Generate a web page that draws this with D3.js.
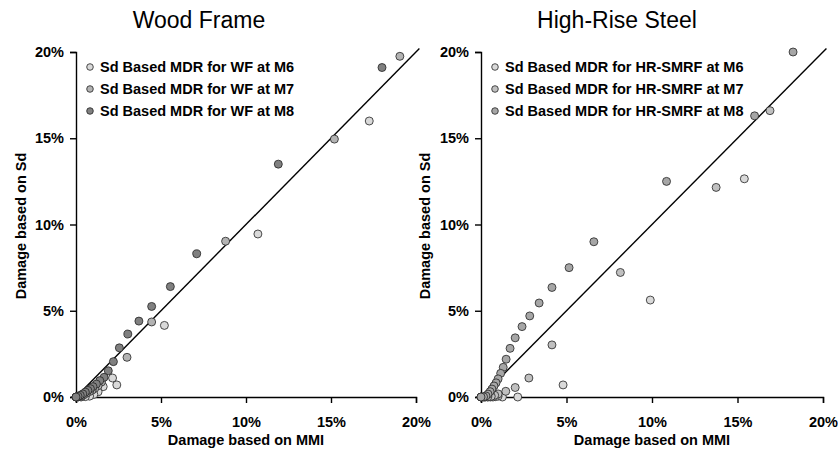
<!DOCTYPE html>
<html>
<head>
<meta charset="utf-8">
<script src="https://cdn.jsdelivr.net/npm/d3@7"></script>
<style>
  body { margin: 0; background: #fff; }
  text { font-family: "Liberation Sans", Arial, sans-serif; }
</style>
</head>
<body>
<div id="chart"></div>
<script>
// Tick values (percent)
const ticks = [0, 5, 10, 15, 20];

// Wood Frame: [damage based on MMI %, damage based on Sd %]
const wfM6 = [[17.25, 16.0], [10.7, 9.45], [5.2, 4.15], [2.15, 1.1], [2.4, 0.7], [1.6, 0.6],
  [1.3, 0.3], [1.05, 0.15], [0.8, 0.05], [0.55, 0.02], [0.3, 0], [0.1, 0], [0, 0]];
const wfM7 = [[19.05, 19.75], [15.2, 14.95], [8.8, 9.03], [4.45, 4.35], [3.0, 2.3], [1.5, 0.87],
  [1.3, 0.65], [1.1, 0.5], [0.95, 0.4], [0.8, 0.32], [0.62, 0.22], [0.45, 0.12], [0.3, 0.05],
  [0.15, 0.01], [0, 0]];
const wfM8 = [[18.0, 19.1], [11.9, 13.5], [7.1, 8.3], [5.55, 6.4], [4.45, 5.25], [3.7, 4.4],
  [3.05, 3.65], [2.55, 2.85], [2.2, 2.05], [1.9, 1.52], [1.65, 1.14], [1.4, 0.95], [1.2, 0.75],
  [1.0, 0.6], [0.85, 0.48], [0.7, 0.38], [0.55, 0.28], [0.4, 0.18], [0.25, 0.1], [0.12, 0.04], [0, 0]];

// High-Rise Steel
const hrM6 = [[15.4, 12.65], [9.9, 5.62], [4.8, 0.7], [2.15, 0], [1.25, 0], [1.0, 0.05],
  [0.85, 0.02], [0.7, 0], [0.55, 0], [0.4, 0], [0.25, 0], [0.1, 0], [0, 0]];
const hrM7 = [[16.9, 16.6], [13.75, 12.15], [8.15, 7.22], [4.15, 3.02], [2.8, 1.1], [2.0, 0.55],
  [1.45, 0.33], [1.0, 0.18], [0.8, 0.1], [0.6, 0.04], [0.4, 0.01], [0.2, 0], [0, 0]];
const hrM8 = [[18.25, 20.0], [16.0, 16.3], [10.85, 12.5], [6.6, 9.0], [5.15, 7.5], [4.15, 6.35],
  [3.4, 5.45], [2.85, 4.7], [2.4, 4.08], [2.0, 3.43], [1.7, 2.82], [1.47, 2.19], [1.3, 1.72],
  [1.15, 1.37], [1.0, 1.05], [0.88, 0.82], [0.76, 0.64], [0.64, 0.46], [0.53, 0.31], [0.41, 0.17],
  [0.29, 0.06], [0.15, 0.01], [0, 0]];

// 1:1 fit line ends
const fitLine = [[0, 0], [20.2, 20.2]];

const wfLabels = ['Sd Based MDR for WF at M6', 'Sd Based MDR for WF at M7', 'Sd Based MDR for WF at M8'];
const hrLabels = ['Sd Based MDR for HR-SMRF at M6', 'Sd Based MDR for HR-SMRF at M7', 'Sd Based MDR for HR-SMRF at M8'];

const svg = d3.select('#chart').append('svg')
  .attr('width', 838)
  .attr('height', 451);

function panel(opts) {
  let x = d3.scaleLinear().domain([0, 20]).range([opts.x0, opts.x1]);
  let y = d3.scaleLinear().domain([0, 20]).range([397, 52]);
  let g = svg.append('g');

  // Title
  g.append('text')
    .attr('x', opts.titleX).attr('y', 28)
    .attr('text-anchor', 'middle')
    .style('font-size', '23px')
    .text(opts.title);

  // Axes
  let fmt = d => d + '%';
  let xAxis = g.append('g').attr('transform', 'translate(0,397)')
    .call(d3.axisBottom(x).tickValues(ticks).tickFormat(fmt).tickSize(6).tickPadding(14));
  let yAxis = g.append('g').attr('transform', 'translate(' + opts.x0 + ',0)')
    .call(d3.axisLeft(y).tickValues(ticks).tickFormat(fmt).tickSize(6).tickPadding(6));
  [xAxis, yAxis].forEach(a => {
    a.select('.domain').attr('stroke', '#000').attr('stroke-width', 1.4);
    a.selectAll('.tick line').attr('stroke', '#000').attr('stroke-width', 1.4);
    a.selectAll('text').attr('fill', '#000')
      .style('font-size', '14.5px').style('font-weight', 'bold')
      .style('font-family', '"Liberation Sans", Arial, sans-serif');
  });

  // Axis titles
  g.append('text')
    .attr('x', (opts.x0 + opts.x1) / 2).attr('y', 445)
    .attr('text-anchor', 'middle')
    .style('font-size', '14.5px').style('font-weight', 'bold')
    .text('Damage based on MMI');
  g.append('text')
    .attr('transform', 'translate(' + opts.yTitleX + ',226) rotate(-90)')
    .attr('text-anchor', 'middle')
    .style('font-size', '14.5px').style('font-weight', 'bold')
    .text('Damage based on Sd');

  // Fit line
  g.append('path')
    .datum(fitLine)
    .attr('d', d3.line().x(d => x(d[0])).y(d => y(d[1])))
    .attr('fill', 'none')
    .attr('stroke', '#000')
    .attr('stroke-width', 1.4);

  // Points
  opts.series.forEach((s, i) => {
    g.append('g').selectAll('circle')
      .data(s)
      .enter()
      .append('circle')
      .attr('cx', d => x(d[0]))
      .attr('cy', d => y(d[1]))
      .attr('r', 4)
      .attr('fill', opts.colors[i])
      .attr('stroke', '#222')
      .attr('stroke-width', 0.8);
  });

  // Legend
  opts.labels.forEach((lab, i) => {
    let ly = 67 + i * 22;
    g.append('circle')
      .attr('cx', opts.x0 + 14).attr('cy', ly).attr('r', 3.3)
      .attr('fill', opts.colors[i]).attr('stroke', '#222').attr('stroke-width', 0.8);
    g.append('text')
      .attr('x', opts.x0 + 24).attr('y', ly + 5.3)
      .style('font-size', '14.5px').style('font-weight', 'bold')
      .text(lab);
  });
}

panel({
  x0: 76, x1: 416, titleX: 199, yTitleX: 26,
  title: 'Wood Frame',
  series: [wfM6, wfM7, wfM8],
  colors: ['#d9d9d9', '#b3b3b3', '#808080'],
  labels: wfLabels
});

panel({
  x0: 481, x1: 823, titleX: 617, yTitleX: 430,
  title: 'High-Rise Steel',
  series: [hrM6, hrM7, hrM8],
  colors: ['#d9d9d9', '#c0c0c0', '#a6a6a6'],
  labels: hrLabels
});
</script>
</body>
</html>
